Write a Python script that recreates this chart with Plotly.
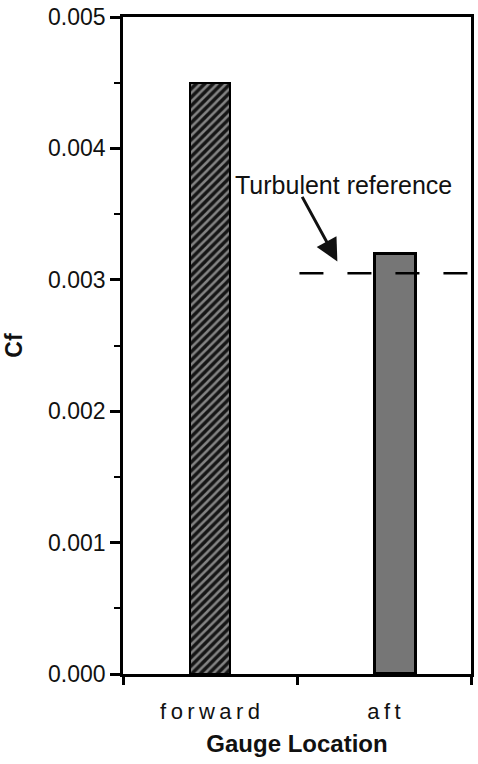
import plotly.graph_objects as go

# Skin-friction coefficient at each gauge location
locations = ["forward", "aft"]
cf_values = [0.0045, 0.0032]
turbulent_ref = 0.00305
y_ticks = [0.000, 0.001, 0.002, 0.003, 0.004, 0.005]
y_tick_labels = ["0.000", "0.001", "0.002", "0.003", "0.004", "0.005"]

FONT = "Liberation Sans, Arial, Helvetica, sans-serif"
BAR_W = 0.235
THIN = "\u2009"  # letter spacing for the category labels

fig = go.Figure()

# forward gauge: hatched bar
fig.add_trace(go.Bar(
    x=[locations[0]], y=[cf_values[0]], width=BAR_W,
    marker=dict(
        color="#151515",
        line=dict(color="black", width=2),
        pattern=dict(shape="/", bgcolor="#151515", fgcolor="#f2f2f2",
                     size=6, solidity=0.42),
    ),
    showlegend=False,
))

# aft gauge: gray stippled bar, set slightly right of the category centre
fig.add_trace(go.Bar(
    x=[locations[1]], y=[cf_values[1]], width=BAR_W, offset=-0.05,
    marker=dict(color="#767676", line=dict(color="black", width=3)),
    showlegend=False,
))

# turbulent reference level
fig.add_shape(type="line", xref="x", yref="y",
              x0=0.514, x1=1.5, y0=turbulent_ref, y1=turbulent_ref,
              line=dict(color="black", width=2.5, dash="24px,24px"))

fig.add_annotation(x=0.766, y=0.00372, xref="x", yref="y",
                   text="Turbulent reference", showarrow=False,
                   font=dict(family=FONT, size=25, color="#111"))
fig.add_annotation(x=0.732, y=0.00314, xref="x", yref="y",
                   ax=-36, ay=-66, text="", showarrow=True,
                   arrowhead=2, arrowsize=1.5, arrowwidth=3,
                   arrowcolor="#111")

fig.update_layout(
    width=478, height=764,
    margin=dict(l=123, r=4, t=13, b=90),
    paper_bgcolor="white", plot_bgcolor="white",
    bargap=0,
    font=dict(family=FONT, color="#111"),
)

fig.update_xaxes(
    type="category", range=[-0.5, 1.5],
    tickvals=locations, ticktext=[THIN.join(name) for name in locations],
    showline=True, linecolor="black", linewidth=2.5, mirror=True,
    ticks="outside", tickson="boundaries", ticklen=8, tickwidth=2.5,
    tickcolor="black", showgrid=False, ticklabelstandoff=16,
    tickfont=dict(family=FONT, size=22),
    title=dict(text="<b>Gauge Location</b>", font=dict(family=FONT, size=24),
               standoff=13),
)

fig.update_yaxes(
    range=[0, 0.005], tickvals=y_ticks, ticktext=y_tick_labels,
    showline=True, linecolor="black", linewidth=2.5, mirror=True,
    ticks="outside", ticklen=10, tickwidth=2.5, tickcolor="black",
    minor=dict(dtick=0.0005, ticks="outside", ticklen=6, tickwidth=2,
               tickcolor="black", showgrid=False),
    showgrid=False, zeroline=False,
    tickfont=dict(family=FONT, size=23),
    title=dict(text="<b>Cf</b>", font=dict(family=FONT, size=23), standoff=20),
)

fig.write_html("out.html")
